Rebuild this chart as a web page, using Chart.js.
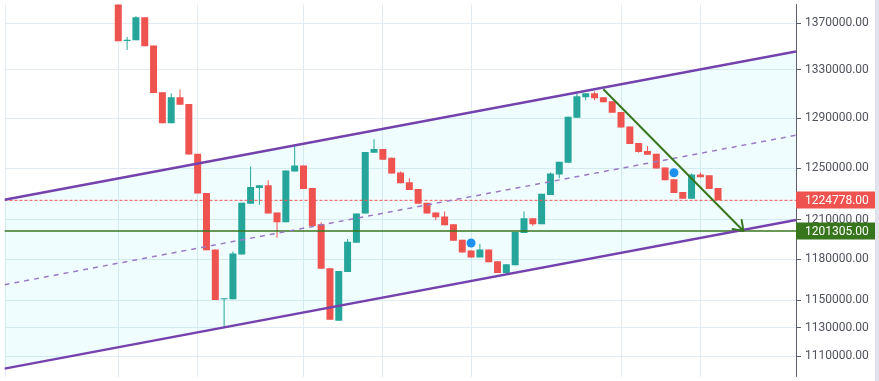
<!DOCTYPE html>
<html><head><meta charset="utf-8">
<script src="https://cdn.jsdelivr.net/npm/chart.js@4.4.0/dist/chart.umd.min.js"></script>
<style>
html,body{margin:0;padding:0;background:#e0e3eb;overflow:hidden;}
#wrap{width:875px;height:381px;background:#ffffff;position:relative;}
canvas{display:block;}
</style></head><body>
<div id="wrap"><canvas id="c" width="875" height="381"></canvas></div>
<script>
const opens = [1398000,1354600,1355100,1375100,1350700,1311300,1285900,1307200,1301600,1261300,
1230500,1187300,1150500,1150500,1183600,1222200,1234300,1236600,1215400,1208000,
1247300,1252000,1234300,1206500,1173400,1135000,1170500,1192400,1214700,1262100,
1265200,1258200,1246600,1238900,1233600,1223000,1215400,1212400,1206500,1194600,
1186500,1181400,1187300,1178500,1169800,1175600,1199800,1210900,1206500,1229000,
1245000,1254300,1290400,1307200,1310500,1307200,1304000,1295200,1283300,1269900,
1263600,1261300,1250400,1241200,1231300,1226000,1245000,1244300,1234300];
const closes = [1354300,1355700,1375100,1350100,1310700,1285900,1307200,1301000,1260700,1230000,
1186700,1150000,1151200,1184300,1223000,1235100,1236600,1214700,1208000,1248100,
1252000,1233600,1205000,1172900,1135700,1171300,1193100,1214700,1262800,1265200,
1256600,1245800,1238100,1232800,1222200,1214700,1211700,1205700,1193900,1185100,
1181400,1187300,1177800,1169800,1176300,1200500,1210900,1206500,1229800,1245800,
1255100,1291200,1308000,1310500,1306400,1303200,1294400,1282500,1269100,1262800,
1260500,1249700,1240400,1230500,1226000,1245000,1242700,1233600,1224778];
const highs = [1398000,1358000,1375900,1375100,1350700,1311300,1310500,1313700,1301600,1261300,
1230500,1187300,1151200,1185800,1223000,1251200,1236600,1240400,1215400,1248100,
1269100,1252000,1234300,1208000,1173400,1171300,1195300,1214700,1262800,1273000,
1265200,1258200,1247300,1242000,1233600,1223000,1215400,1216200,1206500,1194600,
1186500,1191700,1187300,1178500,1176300,1200500,1216200,1210900,1229800,1246600,
1255100,1291200,1310500,1310500,1312100,1307200,1304000,1295200,1283300,1269900,
1267500,1261300,1250400,1241200,1231300,1245800,1246600,1244300,1234300];
const lows = [1354300,1346800,1355100,1350100,1310700,1285900,1285900,1301000,1260700,1230000,
1186700,1150000,1130100,1150500,1183600,1222200,1221400,1214700,1196100,1208000,
1247300,1233600,1205000,1172900,1135700,1135000,1170500,1192400,1214700,1262100,
1256600,1245800,1238100,1232800,1222200,1214700,1209400,1205700,1193900,1185100,
1181400,1181400,1177800,1169800,1168400,1175600,1199800,1205000,1206500,1229000,
1242000,1254300,1290400,1304800,1304800,1303200,1294400,1282500,1269100,1262100,
1260500,1249700,1240400,1230500,1226000,1226000,1242700,1233600,1224778];

const yTicks = [1370000,1330000,1290000,1250000,1210000,1180000,1150000,1130000,1110000];
const yRange = [1095730, 1386160];
const xGridIdx = [-12.77, 0, 9, 21, 30, 40, 57, 66];
const channelX = [-12.9, 76.84];
const upperChannel = [1225200, 1345700];
const midChannel = [1161200, 1276200];
const lowerChannel = [1101200, 1209700];
const lastPrice = 1224778;
const targetPrice = 1201305;
const arrowX = [55, 70.88];
const arrowY = [1313900, 1201305];
const markerX = [40, 63];
const markerY = [1192200, 1246300];

const UP = '#26a69a', DOWN = '#ef5350';
const PURPLE = '#7442ad', GREEN = '#38761d';
const candleColors = opens.map((o,i)=> closes[i] >= o ? UP : DOWN);
const pts = (xs, ys) => xs.map((x,i)=>({x, y: ys[i]}));
const noPad = s => { s.paddingTop = 0; s.paddingBottom = 0; s.paddingLeft = 0; s.paddingRight = 0; };

const arrowHead = {
  id:'arrowHead',
  afterDatasetsDraw(chart){
    const meta = chart.getDatasetMeta(7);
    const a = meta.data[0], b = meta.data[1];
    if(!a||!b) return;
    const ang = Math.atan2(b.y-a.y, b.x-a.x);
    const ctx = chart.ctx; ctx.save();
    ctx.strokeStyle = GREEN; ctx.lineWidth = 2; ctx.lineCap='round';
    ctx.beginPath();
    for(const d of [0.62,-0.62]){
      ctx.moveTo(b.x, b.y);
      ctx.lineTo(b.x + 11*Math.cos(ang+Math.PI+d), b.y + 11*Math.sin(ang+Math.PI+d));
    }
    ctx.stroke(); ctx.restore();
  }
};
const priceLabels = {
  id:'priceLabels',
  afterDraw(chart){
    const ctx = chart.ctx, ys = chart.scales.y, ca = chart.chartArea;
    ctx.save();
    for(const [v,col] of [[lastPrice,DOWN],[targetPrice,GREEN]]){
      const y = ys.getPixelForValue(v);
      ctx.fillStyle = col;
      ctx.fillRect(ca.right, Math.round(y)-8.5, 875-ca.right, 17);
      ctx.fillStyle = '#ffffff';
      ctx.font = '12px Roboto';
      ctx.textBaseline = 'middle';
      ctx.fillText(v.toFixed(2), ca.right+9, Math.round(y)+0.5);
    }
    ctx.restore();
  }
};

new Chart(document.getElementById('c'), {
  type:'bar',
  data:{ datasets:[
    {type:'line', data:pts(channelX, upperChannel), borderColor:PURPLE, borderWidth:2.5, pointRadius:0,
     fill:{target:1, above:'rgba(0,225,255,0.06)', below:'rgba(0,225,255,0.06)'}, order:2},
    {type:'line', data:pts(channelX, lowerChannel), borderColor:PURPLE, borderWidth:2.5, pointRadius:0, fill:false, order:2},
    {type:'line', data:pts(channelX, midChannel), borderColor:'#9a7ac6', borderWidth:1.5, borderDash:[5,5], pointRadius:0, fill:false, order:2},
    {type:'line', data:pts(channelX, [lastPrice,lastPrice]), borderColor:DOWN, borderWidth:1, borderDash:[3,2], pointRadius:0, fill:false, order:3},
    {type:'line', data:pts(channelX, [targetPrice,targetPrice]), borderColor:GREEN, borderWidth:1.5, pointRadius:0, fill:false, order:3},
    {type:'bar', data:opens.map((o,i)=>({x:i, y:[lows[i], highs[i]]})), backgroundColor:candleColors,
     barThickness:1, grouped:false, borderWidth:0, inflateAmount:0, order:6},
    {type:'bar', data:opens.map((o,i)=>({x:i, y:[o, closes[i]]})), backgroundColor:candleColors,
     barThickness:7, minBarLength:1, grouped:false, borderWidth:0, inflateAmount:0, order:5},
    {type:'line', data:pts(arrowX, arrowY), borderColor:GREEN, borderWidth:2, pointRadius:0, fill:false, order:1},
    {type:'line', data:pts(markerX, markerY), showLine:false, pointRadius:4.5, pointBackgroundColor:'#1e90f0',
     pointBorderWidth:0, borderColor:'#1e90f0', fill:false, order:0}
  ]},
  options:{
    responsive:false, animation:false, devicePixelRatio:1,
    layout:{padding:0},
    plugins:{legend:{display:false}, tooltip:{enabled:false}, filler:{drawTime:'beforeDatasetsDraw'}},
    scales:{
      x:{type:'linear', min:channelX[0], max:channelX[1], offset:false, bounds:'data',
        afterBuildTicks:s=>{ s.ticks = xGridIdx.map(v=>({value:v})); },
        afterFit:s=>{ s.height = 0; noPad(s); },
        ticks:{display:false}, grid:{color:'#e1ebf1', drawTicks:false, offset:false}, border:{display:false}},
      y:{type:'logarithmic', position:'right', min:yRange[0], max:yRange[1], bounds:'data',
        afterBuildTicks:s=>{ s.ticks = yTicks.map(v=>({value:v})); },
        afterFit:s=>{ s.width = 79; noPad(s); },
        ticks:{autoSkip:false, padding:4, color:'#50535e', font:{family:'Roboto', size:12},
          callback:v=>Number(v).toFixed(2)},
        grid:{color:'#e1ebf1', tickColor:'#5d606b', tickLength:5},
        border:{color:'#5d606b', width:1}}
    }
  },
  plugins:[arrowHead, priceLabels]
});
</script>
</body></html>
